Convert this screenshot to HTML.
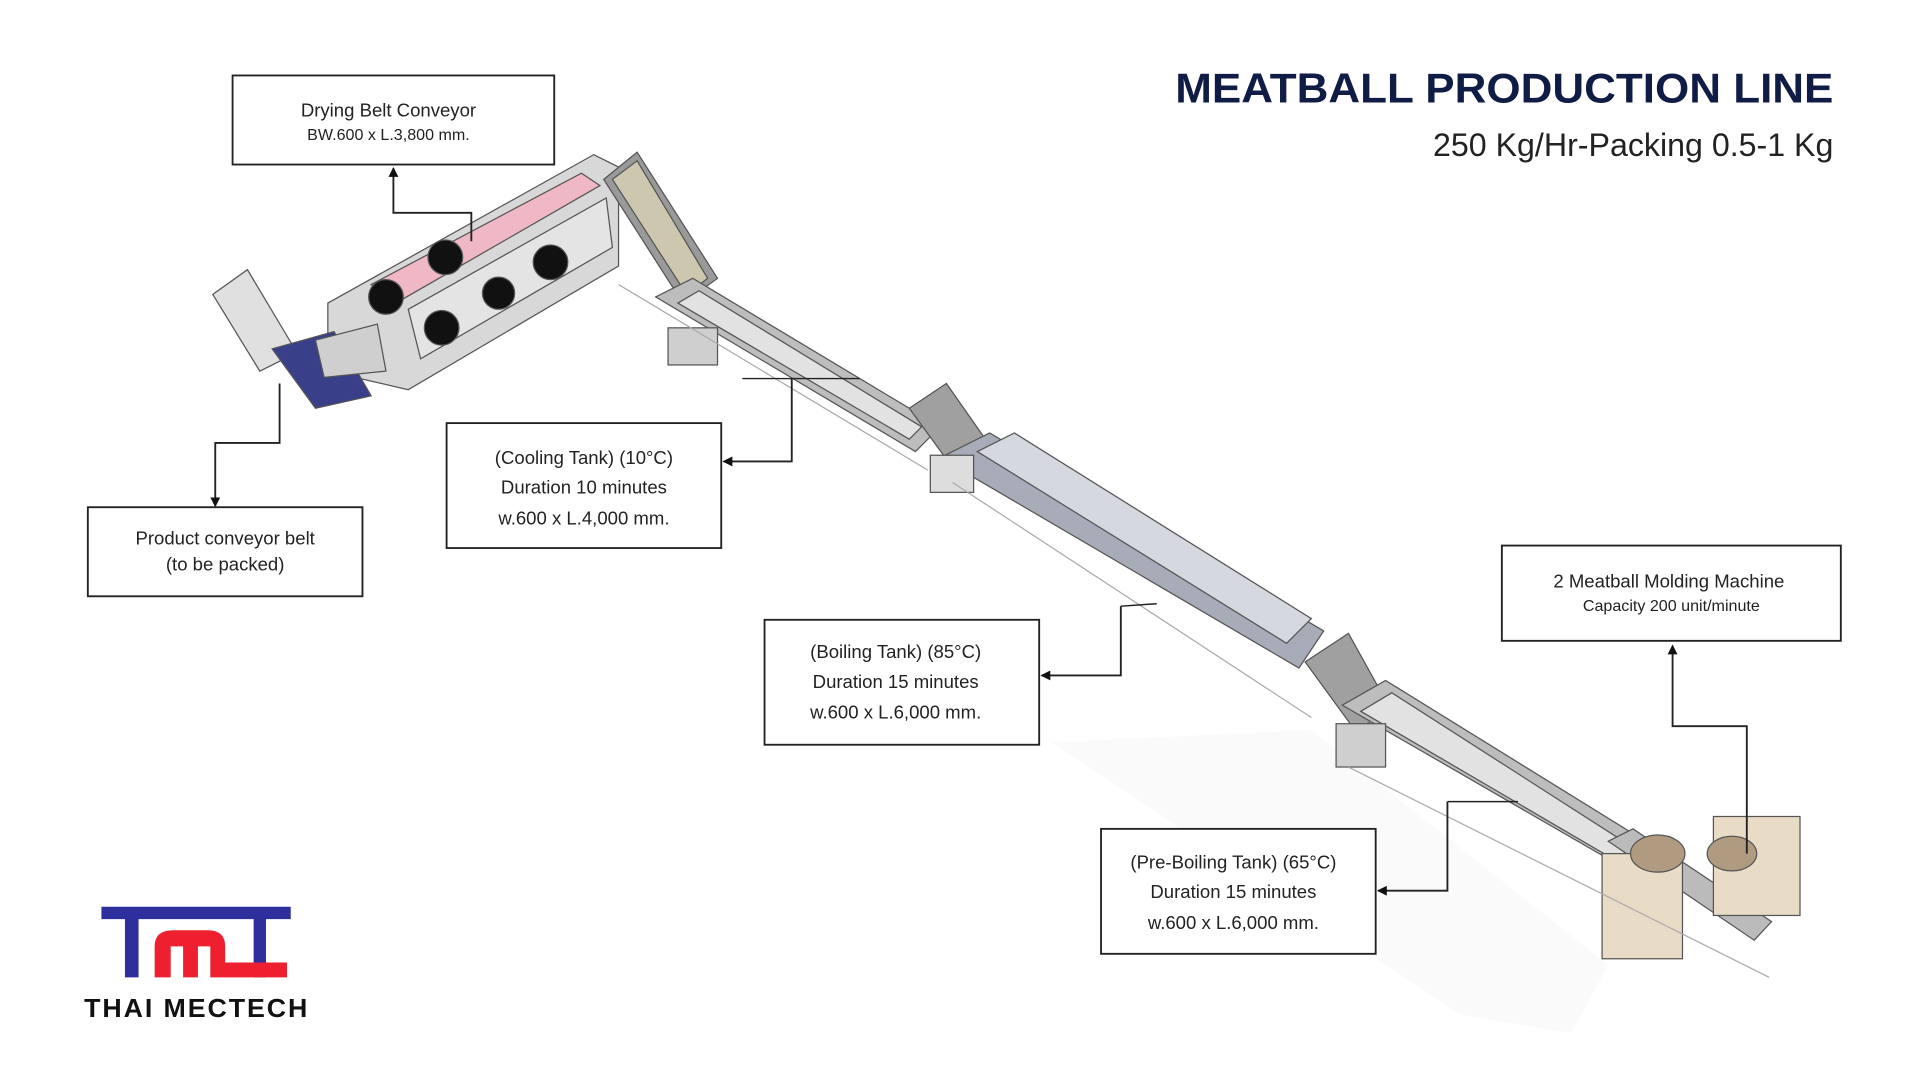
<!DOCTYPE html>
<html><head><meta charset="utf-8"><style>
html,body{margin:0;padding:0;background:#fff;width:1920px;height:1080px;overflow:hidden}
svg{display:block}
text{font-family:"Liberation Sans",Arial,sans-serif}
</style></head><body>
<svg width="1920" height="1080" viewBox="0 0 1552 873" xmlns="http://www.w3.org/2000/svg">
<defs>
<marker id="a" markerWidth="8" markerHeight="8" refX="7" refY="4" orient="auto" markerUnits="userSpaceOnUse"><path d="M0,0 L8,4 L0,8 z" fill="#111"/></marker>
</defs>
<rect width="1552" height="873" fill="#fff"/>
<polygon points="850,600 1060,590 1300,780 1270,835 1180,820" fill="#fafafa"/>
<g stroke="#555" stroke-width="1">
<polygon points="265,245 480,125 500,135 500,215 330,315 265,300" fill="#d8d8d8"/>
<polygon points="300,230 470,140 485,150 320,245" fill="#f0b8c4"/>
<polygon points="330,250 490,160 495,200 340,290" fill="#e4e4e4"/>
<circle cx="360" cy="208" r="14" fill="#111"/>
<circle cx="312" cy="240" r="14" fill="#111"/>
<circle cx="445" cy="212" r="14" fill="#111"/>
<circle cx="403" cy="237" r="13" fill="#111"/>
<circle cx="357" cy="265" r="14" fill="#111"/>
<polygon points="172,238 200,218 240,285 210,300" fill="#e0e0e0"/>
<polygon points="220,282 270,268 300,320 255,330" fill="#3a3f8a"/>
<polygon points="255,275 305,262 312,300 262,305" fill="#cfcfcf"/>
<polygon points="488,145 515,123 580,225 552,245" fill="#9a9a9a"/>
<polygon points="495,145 515,130 572,225 555,238" fill="#cdc7b0"/>
<polygon points="530,240 560,225 760,345 740,365" fill="#bdbdbd"/>
<polygon points="548,245 565,235 745,345 735,355" fill="#e2e2e2"/>
<rect x="540" y="265" width="40" height="30" fill="#cfcfcf"/>
<polygon points="735,330 765,310 800,360 770,378" fill="#a0a0a0"/>
<polygon points="760,370 800,350 1070,510 1050,540" fill="#a8abb8"/>
<polygon points="790,365 820,350 1060,500 1040,520" fill="#d6d8e0"/>
<rect x="752" y="368" width="35" height="30" fill="#ddd"/>
<polygon points="1055,535 1090,512 1125,575 1095,590" fill="#a0a0a0"/>
<polygon points="1085,570 1120,550 1330,680 1310,700" fill="#bdbdbd"/>
<polygon points="1100,575 1125,560 1320,685 1305,695" fill="#e2e2e2"/>
<rect x="1080" y="585" width="40" height="35" fill="#cfcfcf"/>
<polygon points="1300,680 1320,670 1432,745 1418,760" fill="#bbb"/>
<rect x="1295" y="690" width="65" height="85" fill="#e9dcc7"/>
<rect x="1385" y="660" width="70" height="80" fill="#e9dcc7"/>
<ellipse cx="1340" cy="690" rx="22" ry="15" fill="#b09a80"/>
<ellipse cx="1400" cy="690" rx="20" ry="14" fill="#b09a80"/>
</g>
<g stroke="#aaa" stroke-width="1" fill="none">
<line x1="500" y1="230" x2="750" y2="380"/><line x1="770" y1="390" x2="1060" y2="580"/><line x1="1090" y1="620" x2="1430" y2="790"/>
</g>

<text x="1482" y="83" text-anchor="end" font-size="34" font-weight="bold" fill="#0f1c45" textLength="532" lengthAdjust="spacingAndGlyphs">MEATBALL PRODUCTION LINE</text>
<text x="1482" y="126" text-anchor="end" font-size="26" fill="#222">250 Kg/Hr-Packing 0.5-1 Kg</text>

<g fill="#fff" stroke="#222" stroke-width="1.5">
<rect x="188" y="61" width="260" height="72"/>
<rect x="71" y="410" width="222" height="72"/>
<rect x="361" y="342" width="222" height="101"/>
<rect x="618" y="501" width="222" height="101"/>
<rect x="890" y="670" width="222" height="101"/>
<rect x="1214" y="441" width="274" height="77"/>
</g>
<g fill="#222" text-anchor="middle" font-size="15">
<text x="314" y="94">Drying Belt Conveyor</text>
<text x="314" y="113" font-size="13">BW.600 x L.3,800 mm.</text>
<text x="182" y="440">Product conveyor belt</text>
<text x="182" y="461">(to be packed)</text>
<text x="472" y="375">(Cooling Tank) (10°C)</text>
<text x="472" y="399">Duration 10 minutes</text>
<text x="472" y="424">w.600 x L.4,000 mm.</text>
<text x="724" y="532">(Boiling Tank) (85°C)</text>
<text x="724" y="556">Duration 15 minutes</text>
<text x="724" y="581">w.600 x L.6,000 mm.</text>
<text x="997" y="702">(Pre-Boiling Tank) (65°C)</text>
<text x="997" y="726">Duration 15 minutes</text>
<text x="997" y="751">w.600 x L.6,000 mm.</text>
<text x="1349" y="475">2 Meatball Molding Machine</text>
<text x="1351" y="494" font-size="13">Capacity 200 unit/minute</text>
</g>

<g stroke="#222" stroke-width="1.5" fill="none" marker-end="url(#a)">
<polyline points="381,195 381,172 318,172 318,136"/>
<polyline points="226,310 226,358 174,358 174,409"/>
<polyline points="640,306 640,373 585,373"/>
<polyline points="906,490 906,546 842,546"/>
<polyline points="1170,648 1170,720 1114,720"/>
<polyline points="1412,690 1412,587 1352,587 1352,522"/>
</g>
<g stroke="#222" stroke-width="1.2">
<line x1="600" y1="306" x2="695" y2="306"/>
<line x1="906" y1="490" x2="935" y2="488"/>
<line x1="1170" y1="648" x2="1227" y2="648"/>
</g>

<path d="M82,733 H235 V743 H215 V790 H205 V743 H112 V790 H101 V743 H82 Z" fill="#2e2f9c"/>
<path d="M125,790 V765 Q125,752 140,752 H168 Q182,752 182,765 V778 H232 V790 H170 V765 H160 V790 H148 V765 H138 V790 Z" fill="#ee2030"/>
<text x="159" y="822" text-anchor="middle" font-size="21" font-weight="bold" fill="#111" letter-spacing="1.5" textLength="182" lengthAdjust="spacingAndGlyphs">THAI MECTECH</text>
</svg>
</body></html>
